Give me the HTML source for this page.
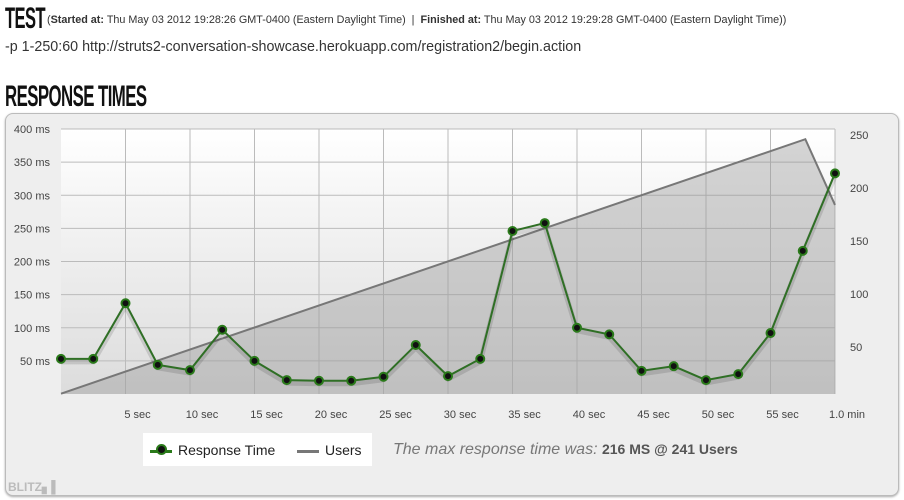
<!DOCTYPE html>
<html><head><meta charset="utf-8">
<style>
body{margin:0;width:904px;height:500px;background:#fff;font-family:"Liberation Sans",sans-serif;position:relative;overflow:hidden}
.abs{position:absolute}
.cond{font-family:"Liberation Sans",sans-serif;font-weight:bold;color:#111;transform-origin:0 0;white-space:nowrap}
</style></head><body>
<div class="abs cond" style="left:5px;top:2px;font-size:30px;transform:scaleX(0.55);letter-spacing:-1px">TEST</div>
<div class="abs" style="left:47px;top:14px;font-size:10.8px;color:#333;white-space:nowrap">(<b>Started at:</b> Thu May 03 2012 19:28:26 GMT-0400 (Eastern Daylight Time) &nbsp;| &nbsp;<b>Finished at:</b> Thu May 03 2012 19:29:28 GMT-0400 (Eastern Daylight Time))</div>
<div class="abs" style="left:5px;top:39px;font-size:14.3px;color:#333;white-space:nowrap">-p 1-250:60 http://struts2-conversation-showcase.herokuapp.com/registration2/begin.action</div>
<div class="abs cond" style="left:5px;top:80px;font-size:30px;transform:scaleX(0.56);letter-spacing:-1px">RESPONSE TIMES</div>
<div class="abs" style="left:5px;top:113px;width:892px;height:381px;border:1px solid #bbb;border-radius:8px;background:#eee;box-shadow:0 1px 2px #aaa"></div>
<svg class="abs" style="left:0;top:0" width="904" height="500" id="chart">
<defs><linearGradient id="bg" x1="0" y1="0" x2="0" y2="1"><stop offset="0" stop-color="#fff"/><stop offset="1" stop-color="#dcdcdc"/></linearGradient></defs>
</svg>
<div class="abs" style="left:143px;top:433px;width:229px;height:33px;background:#fff"></div>
<div class="abs" style="left:150px;top:442px;font-size:14px;color:#222;white-space:nowrap"><span style="display:inline-block;width:22px;height:3px;background:#2a7a1a;vertical-align:middle;position:relative;margin-right:6px"><span style="position:absolute;left:6px;top:-4px;width:7px;height:7px;border-radius:50%;background:#111;border:2px solid #2a7a1a;box-sizing:content-box;margin:-2px 0 0 0"></span></span>Response Time</div>
<div class="abs" style="left:297px;top:442px;font-size:14px;color:#222;white-space:nowrap"><span style="display:inline-block;width:22px;height:3px;background:#777;vertical-align:middle;margin-right:6px"></span>Users</div>
<div class="abs" style="left:393px;top:441px;font-size:16px;color:#777;white-space:nowrap"><i>The max response time was:</i> <b style="font-size:14px;color:#555">216 MS @ 241 Users</b></div>
<div class="abs" style="left:8px;top:480px;font-size:12px;color:#bbb;font-weight:bold">BLITZ▖▌</div>
<script>
const msTicks=[50,100,150,200,250,300,350,400];
const userTicks=[50,100,150,200,250];
const timeTicks=[5,10,15,20,25,30,35,40,45,50,55,60];
const timeLabels=['5 sec','10 sec','15 sec','20 sec','25 sec','30 sec','35 sec','40 sec','45 sec','50 sec','55 sec','1.0 min'];
const rtTimes=[0,2.5,5,7.5,10,12.5,15,17.5,20,22.5,25,27.5,30,32.5,35,37.5,40,42.5,45,47.5,50,52.5,55,57.5,60];
const rtValues=[53,53,137,44,36,97,50,21,20,20,26,74,27,53,246,258,100,90,35,42,21,30,92,216,333];
const userTimes=[0,57.7,60];
const userValues=[6,246,184];
const X0=61,X1=835,Y0=394,YT=129;
const xs=t=>X0+(X1-X0)*t/60;
const yms=v=>Y0-(Y0-YT)*v/400;
const yu=v=>400-v*1.06;
const svg=document.getElementById('chart');
const NS='http://www.w3.org/2000/svg';
function mk(tag,attrs){const e=document.createElementNS(NS,tag);for(const k in attrs)e.setAttribute(k,attrs[k]);svg.appendChild(e);return e;}
let bg=mk('rect',{x:X0,y:YT,width:X1-X0,height:Y0-YT,fill:'url(#bg)'});


msTicks.forEach(v=>{
 let l=mk('line',{x1:X0,x2:X1,y1:yms(v),y2:yms(v),stroke:'#bbb','stroke-width':1});
 
 
 let t=mk('text',{x:50,y:yms(v)+4,'text-anchor':'end','font-size':11,fill:'#444'});t.textContent=v+' ms';
 
 
});
timeTicks.forEach((s,i)=>{
 let l=mk('line',{x1:xs(s),x2:xs(s),y1:YT,y2:Y0,stroke:'#bbb','stroke-width':1});
 
 
 let t=mk('text',{x:xs(s)+12,y:418,'text-anchor':'middle','font-size':11,fill:'#444'});t.textContent=timeLabels[i];
 
 
});
userTicks.forEach(v=>{
 let t=mk('text',{x:850,y:yu(v)+4,'font-size':11,fill:'#444'});t.textContent=v;
 
 
});
let up=userTimes.map((t,i)=>xs(t)+','+yu(userValues[i])).join(' ');
let area=mk('polygon',{points:up+' '+xs(60)+','+Y0+' '+X0+','+Y0,fill:'rgba(150,150,150,0.4)'});


let ul=mk('polyline',{points:up,fill:'none',stroke:'#777','stroke-width':2});


let rp=rtTimes.map((t,i)=>xs(t)+','+yms(rtValues[i])).join(' ');
let sh=mk('polyline',{points:rtTimes.map((t,i)=>xs(t)+','+(yms(rtValues[i])+3)).join(' '),fill:'none',stroke:'rgba(0,0,0,0.12)','stroke-width':5});


let rl=mk('polyline',{points:rp,fill:'none',stroke:'#2f6f25','stroke-width':2});


rtTimes.forEach((t,i)=>{
 let c=mk('circle',{cx:xs(t),cy:yms(rtValues[i]),r:4,fill:'#111',stroke:'#2a7a1a','stroke-width':2});
 
 
});
</script>
</body></html>
